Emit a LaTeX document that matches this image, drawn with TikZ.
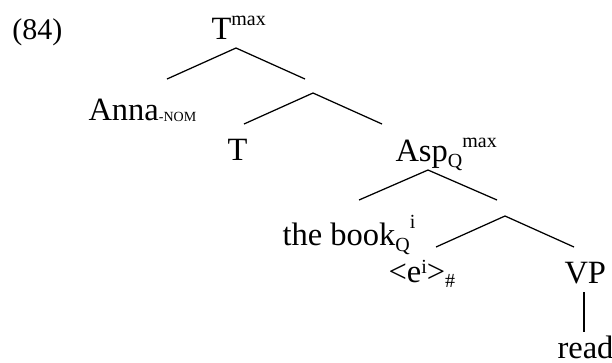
\documentclass[tikz,border=0pt]{standalone}
\usepackage{fontspec}
\setmainfont{Liberation Serif}
\usepackage{tikz}
\usetikzlibrary{calc,positioning}

% small raised / lowered labels on the tree nodes
\newcommand{\up}[2][5.6pt]{\raisebox{#1}{\fontsize{8}{9}\selectfont #2}}
\newcommand{\dn}[2][-2.4pt]{\raisebox{#1}{\fontsize{8}{9}\selectfont #2}}

\begin{document}
\begin{tikzpicture}[
  x=0.4pt,y=-0.4pt,
  lbl/.style={anchor=base west,inner sep=0pt,font=\fontsize{13}{15}\selectfont},
  br/.style={line width=0.5pt,black}
]
  \useasboundingbox (0,0) rectangle (612,362);

  \node[lbl,font=\fontsize{12}{14}\selectfont](ex) at (12,39) {(84)};
  \node[lbl](tmax)   at (211,39) {T\up{max}};
  \node[lbl](anna)   at (88,120) {Anna\raisebox{-0.4pt}{\fontsize{5.6}{6}\selectfont -NOM}};
  \node[lbl](t)      at (227,160){T};
  \node[lbl](aspmax) at (395,161){Asp\dn{Q}\up{max}};
  \node[lbl](book)   at (282,245){the book\dn{Q}\up[6.8pt]{i}};
  \node[lbl](ei)     at (388,282){<e\up[3.6pt]{i}>\dn[-2.2pt]{\#}};
  \node[lbl](vp)     at (564,283){VP};
  \node[lbl](read)   at (557,358){read};

  % branch points
  \coordinate (tmax-a)   at (236,48);
  \coordinate (anna-t)   at (167,79);
  \coordinate (tbar-t)   at (305,79);
  \coordinate (tbar-a)   at (313,93);
  \coordinate (t-t)      at (244,124);
  \coordinate (asp-t)    at (382,124);
  \coordinate (asp-a)    at (428,170);
  \coordinate (book-t)   at (359,200);
  \coordinate (aspbar-t) at (497,200);
  \coordinate (aspbar-a) at (505,216);
  \coordinate (ei-t)     at (436,247);
  \coordinate (vp-t)     at (574,247);
  \coordinate (vp-a)     at (584,292);
  \coordinate (read-t)   at (584,332);

  \draw[br](anna-t)--(tmax-a)--(tbar-t);
  \draw[br](t-t)--(tbar-a)--(asp-t);
  \draw[br](book-t)--(asp-a)--(aspbar-t);
  \draw[br](ei-t)--(aspbar-a)--(vp-t);
  \draw[br](vp-a)--(read-t);
\end{tikzpicture}
\end{document}
